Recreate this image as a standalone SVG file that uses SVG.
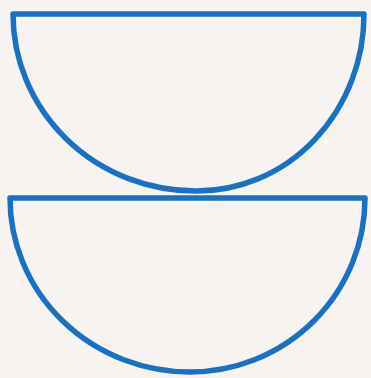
<svg xmlns="http://www.w3.org/2000/svg" width="371" height="378" viewBox="0 0 371 378">
<style>
.bowl{fill:none;stroke:#1a70c2;stroke-width:5.5;stroke-linejoin:round;stroke-linecap:round}
</style>
<rect width="371" height="378" fill="#f7f3f0"/>
<g id="bowl-top">
<path class="bowl" d="M13,14 H364 A167,177 0 0 1 196,191 A183,177 0 0 1 13,14 Z"/>
</g>
<g id="bowl-bottom">
<path class="bowl" d="M10,198 H365 A175,174 0 0 1 190,372 A180,174 0 0 1 10,198 Z"/>
</g>
</svg>
